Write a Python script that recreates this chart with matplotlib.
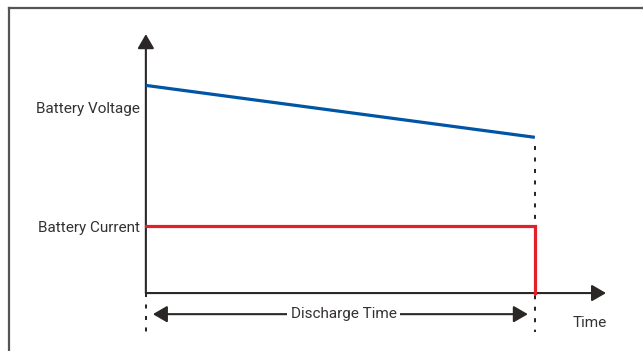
import matplotlib.pyplot as plt
from matplotlib.patches import FancyArrowPatch
from matplotlib.lines import Line2D

plt.rcParams['font.family'] = ['Roboto', 'DejaVu Sans']

# schematic values (arbitrary units)
time_pts = [0.0, 10.0]          # start / end of discharge
voltage = [6.2, 4.65]           # battery voltage at start / end
current = [2.0, 2.0]            # constant discharge current
t_axis_end = 11.83
v_axis_end = 7.73
labels_y = ["Battery Voltage", "Battery Current"]
label_y_pos = [5.5, 1.95]

blue = "#0055a5"
red = "#e3202a"
dark = "#2b2727"
txt = "#353131"

fig = plt.figure(figsize=(6.43, 3.51), dpi=100)
ax = fig.add_axes([0, 0, 1, 1])
ax.set_xlim(-3.75, 12.78)
ax.set_ylim(-1.73, 8.75)
ax.axis("off")

# outer frame (only top/left visible)
fig.add_artist(Line2D([9 / 643, 9 / 643], [0, 1 - 7.5 / 351], transform=fig.transFigure,
                      color="#555555", lw=1.6))
fig.add_artist(Line2D([9 / 643, 1], [1 - 7.5 / 351, 1 - 7.5 / 351], transform=fig.transFigure,
                      color="#555555", lw=1.6))

# axes arrows
def arrow(p0, p1, style="-|>"):
    a = FancyArrowPatch(p0, p1, arrowstyle=style + ",head_length=8.6,head_width=5",
                        mutation_scale=1, color=dark, lw=1.5, shrinkA=0, shrinkB=0)
    ax.add_patch(a)

arrow((0, 0), (0, v_axis_end))
arrow((0, 0), (t_axis_end, 0))

# dotted guides
dots = (0, (2, 3.7))
ax.plot([time_pts[0], time_pts[0]], [0, -1.17], color=dark, lw=1.45, ls=dots)
ax.plot([time_pts[1], time_pts[1]], [voltage[1] - 0.25, -1.17], color=dark, lw=1.45, ls=dots)

# series
ax.plot(time_pts, voltage, color=blue, lw=2.3, solid_capstyle="butt")
ax.plot(time_pts + [time_pts[1]], current + [0], color=red, lw=2.3, solid_joinstyle="miter")

# discharge time double arrow
arrow((0.18, -0.63), (9.82, -0.63), style="<|-|>")
ax.text(5.08, -0.63, "Discharge Time", fontsize=11, color=txt, ha="center", va="center",
        bbox=dict(facecolor="white", edgecolor="none", pad=2.5))

ax.text(11.4, -0.9, "Time", fontsize=11, color=txt, ha="center", va="center")
for lab, yy in zip(labels_y, label_y_pos):
    ax.text(-0.16, yy, lab, fontsize=11, color=txt, ha="right", va="center")

fig.savefig("out.png", dpi=100)
